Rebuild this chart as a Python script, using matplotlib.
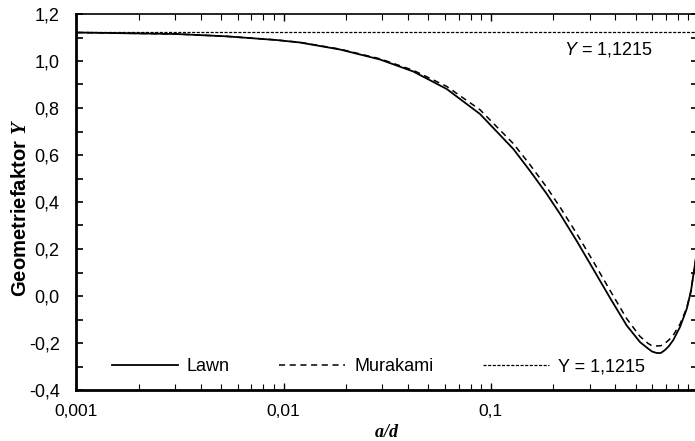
import matplotlib
matplotlib.use("Agg")
import matplotlib.pyplot as plt
from matplotlib.ticker import FixedLocator, FuncFormatter, LogLocator, NullFormatter

# values (a/d, Y)
ad = [0.001, 0.00303, 0.00528, 0.0092, 0.01201, 0.01874, 0.02922, 0.04231, 0.06133,
      0.08879, 0.1286, 0.1548, 0.1864, 0.2160, 0.2602, 0.3127, 0.3766, 0.4533,
      0.5256, 0.5742, 0.6005, 0.6327, 0.6622, 0.6939, 0.7252, 0.7609, 0.8196,
      0.8830, 0.9261, 0.9683, 1.0]
lawn_y = [1.1213, 1.1149, 1.1051, 1.0894, 1.0787, 1.0489, 1.0064, 0.9553, 0.8809,
          0.7745, 0.6255, 0.5323, 0.4345, 0.3494, 0.2340, 0.1140, -0.0081, -0.1255,
          -0.1962, -0.2234, -0.2362, -0.2426, -0.2426, -0.2298, -0.2128, -0.1872, -0.1319,
          -0.0553, 0.0213, 0.1362, 0.217]
mura_y = [1.1213, 1.1149, 1.1051, 1.0896, 1.0794, 1.0505, 1.0094, 0.9603, 0.8919,
          0.7925, 0.6485, 0.5583, 0.4625, 0.3784, 0.2650, 0.1470, 0.0239, -0.0965,
          -0.1722, -0.2014, -0.2122, -0.2126, -0.2116, -0.2008, -0.1868, -0.1662, -0.1199,
          -0.0513, 0.0223, 0.1362, 0.217]

y_const = 1.1215
x_ticks = [0.001, 0.01, 0.1]
x_labels = ["0,001", "0,01", "0,1"]

plt.rcParams["font.family"] = ["Liberation Sans", "DejaVu Sans"]
plt.rcParams["mathtext.fontset"] = "custom"
plt.rcParams["mathtext.it"] = "Liberation Sans:italic"
plt.rcParams["mathtext.bfit"] = "Liberation Serif:bold:italic"

fig = plt.figure(figsize=(6.95, 4.41), dpi=100)
ax = fig.add_axes([76.3 / 695, 1 - 390 / 441, 621.6 / 695, 376 / 441])

ax.plot(ad, lawn_y, color="black", lw=1.3, label="Lawn")
ax.plot(ad, mura_y, color="black", lw=1.1, ls=(0, (4, 3)), label="Murakami")
ax.axhline(y_const, color="black", lw=0.9, ls=(0, (2.5, 1.2)), label="Y = 1,1215")

ax.set_xscale("log")
ax.set_xlim(0.001, 1)
ax.set_ylim(-0.4, 1.2)

ax.xaxis.set_major_locator(FixedLocator(x_ticks + [1]))
ax.xaxis.set_major_formatter(FuncFormatter(
    lambda v, p: x_labels[x_ticks.index(v)] if v in x_ticks else ""))
ax.xaxis.set_minor_locator(LogLocator(base=10, subs=range(2, 10)))
ax.xaxis.set_minor_formatter(NullFormatter())

ax.yaxis.set_major_locator(FixedLocator([-0.4 + 0.2 * i for i in range(9)]))
ax.yaxis.set_minor_locator(FixedLocator([-0.3 + 0.2 * i for i in range(8)]))
ax.yaxis.set_major_formatter(FuncFormatter(lambda v, p: f"{v:.1f}".replace(".", ",")))

ax.tick_params(which="both", direction="in", top=True, right=True, color="black")
ax.tick_params(axis="x", which="major", length=5, width=1, pad=10, labelsize=12.5)
ax.tick_params(axis="x", which="minor", length=4, width=0.8)
ax.tick_params(axis="y", which="both", length=5, width=1.2, pad=12, labelsize=13)

for side in ["left", "bottom"]:
    ax.spines[side].set_linewidth(2)
ax.spines["top"].set_linewidth(1.2)

ax.set_ylabel(r"Geometriefaktor $\mathbfit{Y}$", fontsize=14.6, fontweight="bold")
ax.yaxis.set_label_coords(-0.074, 0.483)
ax.set_xlabel(r"$\mathbfit{a/d}$", fontsize=13, labelpad=4)

ax.text(0.371, 1.05, r"$\mathit{Y}$ = 1,1215", fontsize=13, ha="center", va="center")

ax.legend(loc="lower left", bbox_to_anchor=(0.0456, 0.02), ncol=3, frameon=False,
          fontsize=13, handlelength=3.65, handletextpad=0.5, columnspacing=2.75,
          borderaxespad=0)

fig.savefig("out.png", dpi=100)
